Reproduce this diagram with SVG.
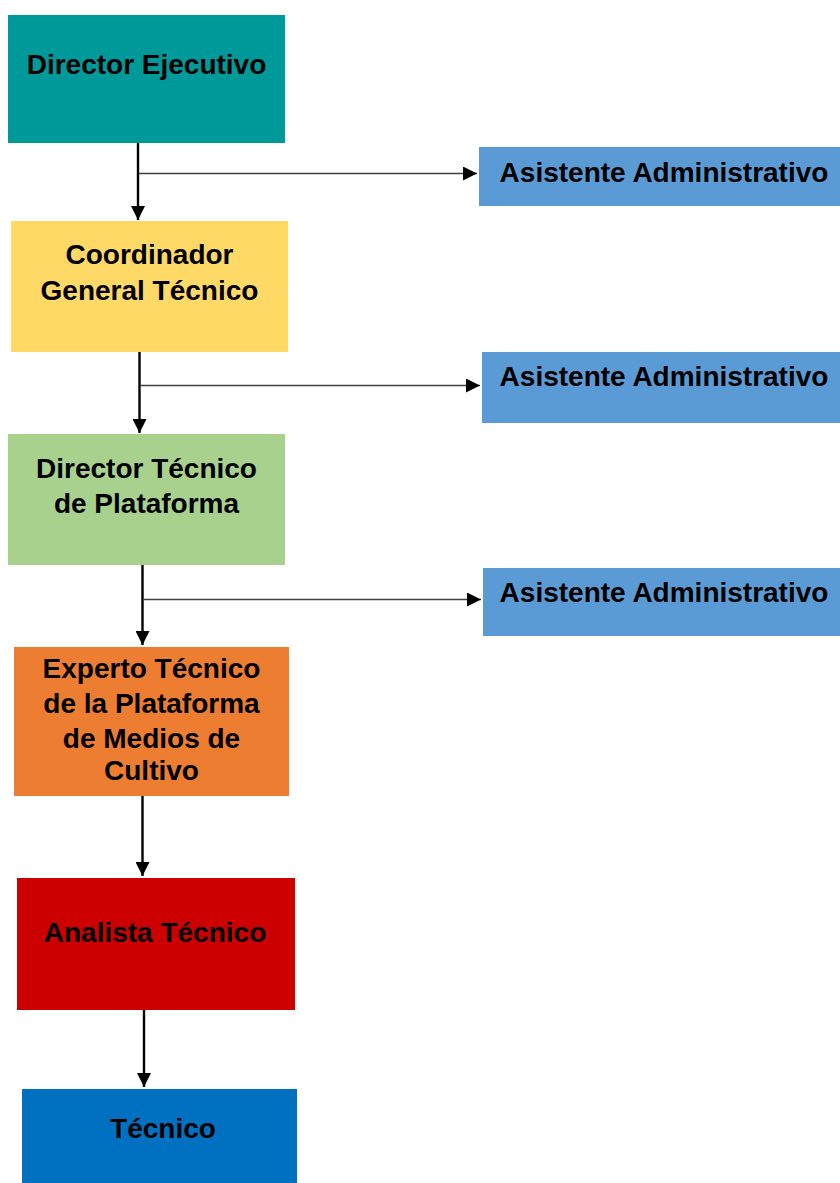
<svg xmlns="http://www.w3.org/2000/svg" width="840" height="1183" viewBox="0 0 840 1183">
<style>
.t{font-family:"Liberation Sans",Arial,sans-serif;font-weight:bold;font-size:28px;fill:#000;text-anchor:middle}
.v{stroke:#000;stroke-width:2.4;fill:none}
.h{stroke:#404040;stroke-width:1.4;fill:none}
</style>
<defs>
<marker id="ah" viewBox="0 0 10 10" refX="10" refY="5" markerWidth="14" markerHeight="14" markerUnits="userSpaceOnUse" orient="auto">
<path d="M0,0 L10,5 L0,10 Z" fill="#000"/>
</marker>
</defs>
<rect width="840" height="1183" fill="#fff"/>
<g id="director-ejecutivo">
<rect x="8" y="15" width="277" height="128" fill="#009999"/>
<text class="t" x="146.5" y="74">Director Ejecutivo</text>
</g>
<g id="asistente-1">
<rect x="479" y="147" width="361" height="59" fill="#5B9BD5"/>
<text class="t" x="664" y="182">Asistente Administrativo</text>
</g>
<g id="coordinador">
<rect x="11" y="221" width="277" height="131" fill="#FFD966"/>
<text class="t" x="149.5" y="264">Coordinador</text>
<text class="t" x="149.5" y="300">General Técnico</text>
</g>
<g id="asistente-2">
<rect x="482" y="352" width="358" height="71" fill="#5B9BD5"/>
<text class="t" x="664" y="386">Asistente Administrativo</text>
</g>
<g id="director-tecnico">
<rect x="8" y="434" width="277" height="131" fill="#A9D18E"/>
<text class="t" x="146.5" y="478">Director Técnico</text>
<text class="t" x="146.5" y="513">de Plataforma</text>
</g>
<g id="asistente-3">
<rect x="483" y="568" width="357" height="68" fill="#5B9BD5"/>
<text class="t" x="664" y="602">Asistente Administrativo</text>
</g>
<g id="experto">
<rect x="14" y="647" width="275" height="149" fill="#ED7D31"/>
<text class="t" x="151.5" y="678">Experto Técnico</text>
<text class="t" x="151.5" y="713">de la Plataforma</text>
<text class="t" x="151.5" y="748">de Medios de</text>
<text class="t" x="151.5" y="780">Cultivo</text>
</g>
<g id="analista">
<rect x="17" y="878" width="278" height="132" fill="#CC0000"/>
<text class="t" x="155" y="942">Analista Técnico</text>
</g>
<g id="tecnico">
<rect x="22" y="1089" width="275" height="94" fill="#0070C0"/>
<text class="t" x="163" y="1138">Técnico</text>
</g>
<g id="connectors">
<line class="v" x1="138" y1="143" x2="138" y2="220" marker-end="url(#ah)"/>
<line class="h" x1="139" y1="173.5" x2="477" y2="173.5" marker-end="url(#ah)"/>
<line class="v" x1="139.5" y1="352" x2="139.5" y2="433" marker-end="url(#ah)"/>
<line class="h" x1="140" y1="385.5" x2="480" y2="385.5" marker-end="url(#ah)"/>
<line class="v" x1="142.5" y1="565" x2="142.5" y2="645" marker-end="url(#ah)"/>
<line class="h" x1="143" y1="599.5" x2="481" y2="599.5" marker-end="url(#ah)"/>
<line class="v" x1="142.5" y1="796" x2="142.5" y2="876" marker-end="url(#ah)"/>
<line class="v" x1="144" y1="1010" x2="144" y2="1087" marker-end="url(#ah)"/>
</g>
</svg>
